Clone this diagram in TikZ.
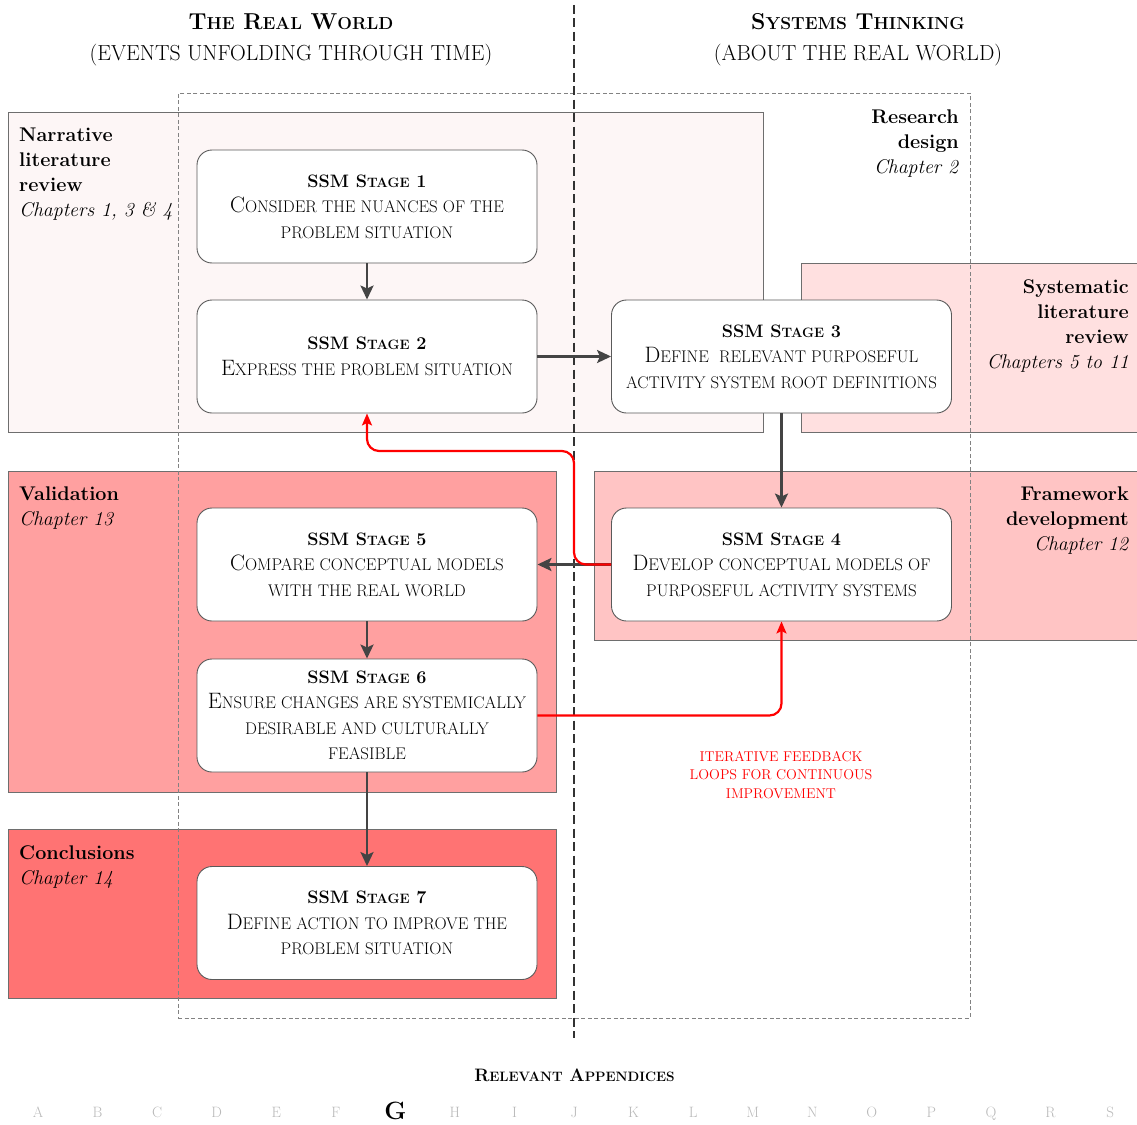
\documentclass[tikz,border=0pt]{standalone}
\usepackage{fontspec}
\usetikzlibrary{arrows.meta}
\definecolor{cnarr}{RGB}{253,246,246}
\definecolor{csyst}{RGB}{255,224,224}
\definecolor{cfw}{RGB}{255,196,196}
\definecolor{cval}{RGB}{255,160,160}
\definecolor{ccon}{RGB}{255,115,115}
\definecolor{regborder}{RGB}{110,110,110}
\definecolor{boxborder}{RGB}{90,90,90}
\definecolor{arrowgray}{RGB}{68,68,68}
\definecolor{dashgray}{RGB}{130,130,130}
\definecolor{sepcol}{RGB}{50,50,50}
\definecolor{applight}{RGB}{185,185,185}
\makeatletter
\newcommand\sm[1]{{\fontsize{\fpeval{0.756*\f@size}}{\f@baselineskip}\selectfont #1}}
\makeatother
\newcommand\stitle[1]{{\fontsize{18}{25.5}\selectfont\bfseries SSM S\sm{TAGE} #1}}
\tikzset{
  region/.style={draw=regborder, line width=1pt, anchor=north west, inner sep=0pt},
  rdbox/.style={draw=dashgray, line width=0.8pt, dash pattern=on 4pt off 2.5pt, anchor=north west, inner sep=0pt},
  sepline/.style={draw=sepcol, line width=2pt, dash pattern=on 9pt off 4.5pt},
  stagebox/.style={draw=boxborder, fill=white, line width=0.9pt, rounded corners=15pt,
    minimum width=340pt, minimum height=113pt, inner sep=0pt, align=center,
    font=\fontsize{22.3}{25.5}\selectfont},
  garrow/.style={draw=arrowgray, line width=2.6pt, -{Stealth[length=14pt,width=13pt,inset=3pt]}},
  farrow/.style={draw=red, line width=2.2pt, rounded corners=12pt, -{Stealth[length=12pt,width=10pt,inset=2.5pt]}},
  lab/.style={inner sep=0pt, font=\fontsize{19.8}{25}\selectfont},
  headtitle/.style={inner sep=0pt, anchor=base, font=\fontsize{23}{28}\selectfont\bfseries},
  headsub/.style={inner sep=0pt, anchor=base, font=\fontsize{21.8}{24}\selectfont},
  fbtext/.style={inner sep=0pt, align=center, text=red, font=\fontsize{14.2}{18.7}\selectfont},
  apptitle/.style={inner sep=0pt, anchor=base, font=\fontsize{18}{22}\selectfont\bfseries},
  appletter/.style={inner sep=0pt, anchor=base, text=applight, font=\fontsize{15}{18}\selectfont},
  appsel/.style={inner sep=0pt, anchor=base, text=black, font=\fontsize{25}{28}\selectfont\bfseries}
}
\begin{document}
\begin{tikzpicture}[x=1pt,y=-1pt]
\useasboundingbox (0,0) rectangle (1137,1124);
\fill[white] (0,0) rectangle (1137,1124);
\begin{scope}
\clip (0,0) rectangle (1137,1124);
% regions
\node[region, fill=cnarr, minimum width=755pt, minimum height=320pt] (rnarr) at (8,112) {};
\node[region, fill=csyst, minimum width=340pt, minimum height=169pt] (rsyst) at (800.5,263) {};
\node[region, fill=cval, minimum width=547.5pt, minimum height=320.5pt] (rval) at (8,471) {};
\node[region, fill=cfw, minimum width=547pt, minimum height=169pt] (rfw) at (593.5,471) {};
\node[region, fill=ccon, minimum width=547.5pt, minimum height=169pt] (rcon) at (8,829) {};
% research design dashed frame
\node[rdbox, minimum width=792pt, minimum height=924.5pt] (rd) at (178,93) {};
% separator
\coordinate (septop) at (574,5);
\coordinate (sepbot) at (574,1038);
\draw[sepline] (septop) -- (sepbot);
\end{scope}

% headings
\node[headtitle] (h1) at (291,29.5) {T\sm{HE} R\sm{EAL} W\sm{ORLD}};
\node[headsub] (h1s) at (291,60) {(EVENTS UNFOLDING THROUGH TIME)};
\node[headtitle] (h2) at (858,29.5) {S\sm{YSTEMS} T\sm{HINKING}};
\node[headsub] (h2s) at (858,60) {(ABOUT THE REAL WORLD)};

% stage boxes
\node[stagebox] (s1) at (367,206.5) {\stitle{1}\\C\sm{ONSIDER THE NUANCES OF THE}\\\sm{PROBLEM SITUATION}};
\node[stagebox] (s2) at (367,356.5) {\stitle{2}\\E\sm{XPRESS THE PROBLEM SITUATION}};
\node[stagebox] (s3) at (781.5,356.5) {\stitle{3}\\D\sm{EFINE~ RELEVANT PURPOSEFUL}\\\sm{ACTIVITY SYSTEM ROOT DEFINITIONS}};
\node[stagebox] (s4) at (781.5,564.5) {\stitle{4}\\D\sm{EVELOP CONCEPTUAL MODELS OF}\\\sm{PURPOSEFUL ACTIVITY SYSTEMS}};
\node[stagebox] (s5) at (367,564.5) {\stitle{5}\\C\sm{OMPARE CONCEPTUAL MODELS}\\\sm{WITH THE REAL WORLD}};
\node[stagebox] (s6) at (367,715.5) {\stitle{6}\\E\sm{NSURE CHANGES ARE SYSTEMICALLY}\\\sm{DESIRABLE AND CULTURALLY}\\\sm{FEASIBLE}};
\node[stagebox] (s7) at (367,923) {\stitle{7}\\D\sm{EFINE ACTION TO IMPROVE THE}\\\sm{PROBLEM SITUATION}};

% gray flow arrows
\draw[garrow] (s1.south) -- (s2.north);
\draw[garrow] (s2.east) -- (s3.west);
\draw[garrow] (s3.south) -- (s4.north);
\draw[garrow] (s4.west) -- (s5.east);
\draw[garrow] (s5.south) -- (s6.north);
\draw[garrow] (s6.south) -- (s7.north);

% red feedback loops
\coordinate (fbturn) at (574,451);
\draw[farrow] (s4.west) -| (fbturn) -| (s2.south);
\draw[farrow] (s6.east) -| (s4.south);
\node[fbtext] (fb) at (781,774.8) {ITERATIVE FEEDBACK\\LOOPS FOR CONTINUOUS\\IMPROVEMENT};

% region labels
\node[lab, anchor=north west, align=left] (lnarr) at (19,128.2) {\textbf{Narrative}\\\textbf{literature}\\\textbf{review}\\\textit{Chapters 1, 3 \& 4}};
\node[lab, anchor=north east, align=right] (lrd) at (959,109.8) {\textbf{Research}\\\textbf{design}\\\textit{Chapter 2}};
\node[lab, anchor=north east, align=right] (lsyst) at (1129,279.5) {\textbf{Systematic}\\\textbf{literature}\\\textbf{review}\\\textit{Chapters 5 to 11}};
\node[lab, anchor=north east, align=right] (lfw) at (1129,486.5) {\textbf{Framework}\\\textbf{development}\\\textit{Chapter 12}};
\node[lab, anchor=north west, align=left] (lval) at (19,486.5) {\textbf{Validation}\\\textit{Chapter 13}};
\node[lab, anchor=north west, align=left] (lcon) at (19,845.8) {\textbf{Conclusions}\\\textit{Chapter 14}};

% appendices
\node[apptitle] (reltitle) at (574.5,1081) {R\sm{ELEVANT} A\sm{PPENDICES}};
\foreach \L/\i in {A/0,B/1,C/2,D/3,E/4,F/5,H/7,I/8,J/9,K/10,L/11,M/12,N/13,O/14,P/15,Q/16,R/17,S/18}{
  \node[appletter] (app\L) at ({38+59.56*\i},1117) {\L};
}
\node[appsel] (appG) at ({38+59.56*6},1119) {G};
\end{tikzpicture}
\end{document}
